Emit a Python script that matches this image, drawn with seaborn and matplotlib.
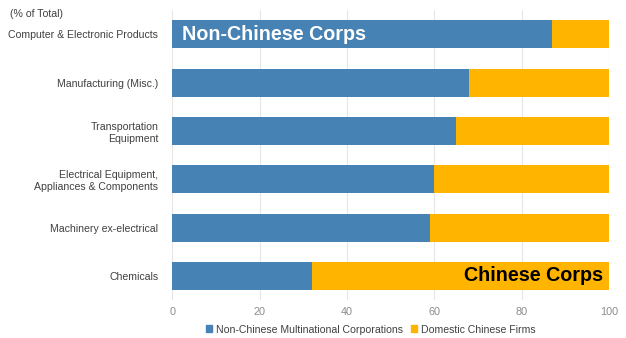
import matplotlib
matplotlib.use("Agg")
import matplotlib.pyplot as plt
import seaborn as sns
import pandas as pd
from matplotlib.patches import Patch

categories = ['Computer & Electronic Products', 'Manufacturing (Misc.)',
              'Transportation\nEquipment', 'Electrical Equipment,\nAppliances & Components',
              'Machinery ex-electrical', 'Chemicals']
non_chinese = [87, 68, 65, 60, 59, 32]
domestic = [100 - v for v in non_chinese]

blue = '#4682B4'
orange = '#FFB500'

df = pd.DataFrame({'cat': categories, 'non': non_chinese, 'dom': domestic})
df['total'] = df['non'] + df['dom']

sns.set_style('white')
plt.rcParams['font.family'] = ['Liberation Sans', 'DejaVu Sans']

fig = plt.figure(figsize=(6.26, 3.38), dpi=100)
ax = fig.add_axes([0.275, 0.112, 0.698, 0.858])

sns.barplot(data=df, x='total', y='cat', color=orange, width=0.58, saturation=1,
            linewidth=0, ax=ax, zorder=2)
sns.barplot(data=df, x='non', y='cat', color=blue, width=0.58, saturation=1,
            linewidth=0, ax=ax, zorder=3)

ax.set_xlim(0, 100)
ax.set_xticks([0, 20, 40, 60, 80, 100])
ax.grid(axis='x', color='#e6e6e6', linewidth=0.8, zorder=0)
ax.set_axisbelow(True)
sns.despine(ax=ax, left=True, bottom=True)
ax.set_xlabel('')
ax.set_ylabel('')
ax.tick_params(axis='x', colors='#8c8c8c', labelsize=7.8, length=0, pad=5)
ax.tick_params(axis='y', colors='#404040', labelsize=7.6, length=0, pad=10)

ax.text(2.3, 0, 'Non-Chinese Corps', color='white', fontsize=14.2, fontweight='bold',
        va='center', ha='left', zorder=5)
ax.text(98.6, 5, 'Chinese Corps', color='black', fontsize=14.2, fontweight='bold',
        va='center', ha='right', zorder=5)

fig.text(0.016, 0.958, '(% of Total)', fontsize=7.6, color='#404040', va='center', ha='left')

handles = [Patch(color=blue, label='Non-Chinese Multinational Corporations'),
           Patch(color=orange, label='Domestic Chinese Firms')]
fig.legend(handles=handles, loc='center', bbox_to_anchor=(0.592, 0.025), ncol=2,
           frameon=False, fontsize=7.6, handlelength=0.6, handleheight=0.6,
           handletextpad=0.3, columnspacing=0.8, labelcolor='#404040')

fig.savefig('out.png', dpi=100)
